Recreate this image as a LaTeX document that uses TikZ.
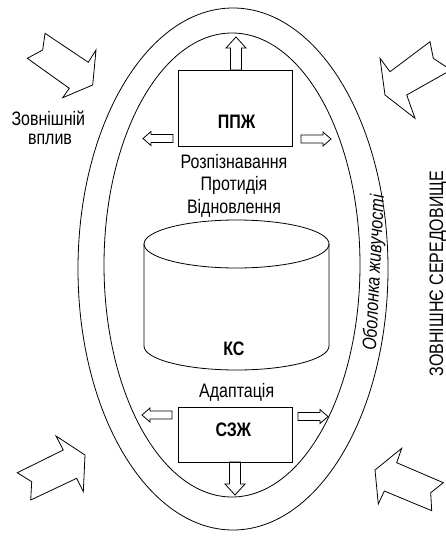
\documentclass[tikz,border=0pt]{standalone}
\usepackage{fontspec}
\setmainfont{Liberation Sans}[FakeStretch=0.82]

\begin{document}
\begin{tikzpicture}[x=1pt, y=-1pt, line width=0.8pt,
    lbl/.style={font=\fontsize{19.5}{21.5}\selectfont, inner sep=0pt, anchor=base},
    boldlbl/.style={font=\fontsize{19.5}{21.5}\selectfont\bfseries, inner sep=0pt, anchor=base},
    box/.style={draw, minimum width=114pt, inner sep=0pt},
    sidearr/.pic={\draw (0,-4) -- (22,-4) -- (22,-7) -- (30,0) -- (22,7) -- (22,4) -- (0,4) -- cycle;},
    vertarr/.pic={\draw (0,-5.5) -- (22,-5.5) -- (22,-10) -- (33,0) -- (22,10) -- (22,5.5) -- (0,5.5) -- cycle;}]
    \useasboundingbox (0,0) rectangle (446,536);

    % оболонка
    \draw (233,269) ellipse [x radius=155, y radius=261];
    \draw (232,265) ellipse [x radius=128, y radius=232];

    % зовнішні впливи
    \draw (45,33.3) -- (42.7,50) -- (27.3,58.3) -- (69.3,88.3) -- (62.7,97.7) -- (92.7,85) -- (96,50) -- (88.3,62.3) -- cycle;
    \draw (430,41.7) -- (433.3,58.3) -- (451,70) -- (406.7,95) -- (415,118.3) -- (385,95) -- (380,58.3) -- (390,71.7) -- cycle;
    \draw (56,436) -- (63.3,450) -- (17.3,472.7) -- (31.7,481.7) -- (30.7,500) -- (76.7,478.3) -- (83.3,491.7) -- (85,455) -- cycle;
    \draw (401.7,448.3) -- (396.7,462.7) -- (443.3,482.7) -- (430.7,492.7) -- (431.7,510.7) -- (384.3,491) -- (378.3,504) -- (375,470) -- cycle;

    \node[lbl] (outer1) at (48.3,125) {Зовнішній};
    \node[lbl] (outer2) at (50,144) {вплив};

    % ППЖ
    \node[box, minimum height=76pt] (ppzh) at (235,108) {};
    \node[boldlbl] (ppzhlbl) at (236.7,128.3) {ППЖ};
    \pic[rotate=90] at (236,70) {vertarr};
    \pic[rotate=180] at (173,138.5) {sidearr};
    \pic at (301,139) {sidearr};

    \node[lbl] (recog) at (234,168) {Розпізнавання};
    \node[lbl] (counter) at (234,190.5) {Протидія};
    \node[lbl] (restore) at (234,213) {Відновлення};

    % КС
    \draw (236.5,244) ellipse [x radius=92.5, y radius=24];
    \draw (144,244) -- (144,346) arc[start angle=180, end angle=0, x radius=92.5, y radius=24] -- (329,244);
    \node[boldlbl] (ks) at (234,355.5) {КС};

    % СЗЖ
    \node[lbl] (adapt) at (236.7,397.5) {Адаптація};
    \node[box, minimum height=55pt] (szh) at (235,434.5) {};
    \node[boldlbl] (szhlbl) at (233.3,436.7) {СЗЖ};
    \pic[rotate=180] at (172,415) {sidearr};
    \pic at (298,416.5) {sidearr};
    \pic[rotate=-90] at (235,462) {vertarr};

    % підписи збоку
    \node[lbl, rotate=87, font=\fontsize{19.5}{21.5}\selectfont\itshape] (shell) at (380,273) {Оболонка живучості};
    \node[lbl, rotate=90] (env) at (443,273.5) {ЗОВНІШНЄ СЕРЕДОВИЩЕ};
\end{tikzpicture}
\end{document}
